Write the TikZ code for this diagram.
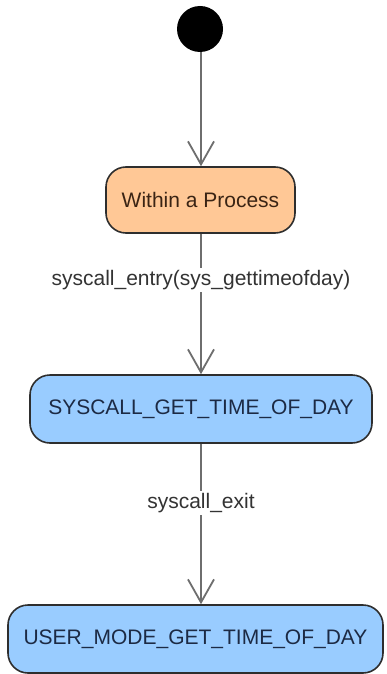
\documentclass[tikz,border=0pt]{standalone}
\usepackage{fontspec}
\setmainfont{Liberation Sans}
\usetikzlibrary{arrows.meta}
\definecolor{peach}{HTML}{FFC896}
\definecolor{skyfill}{HTML}{99CCFF}
\definecolor{edgegray}{HTML}{6E6E6E}
\definecolor{framedark}{HTML}{2E2E2E}
\definecolor{navytext}{HTML}{1C2A44}
\definecolor{browntext}{HTML}{3A2414}
\tikzset{
  state/.style={draw=framedark, line width=1.6pt, rounded corners=20pt,
    font=\fontsize{21}{25}\selectfont, inner sep=0pt},
  startdot/.style={circle, fill=black, inner sep=0pt, minimum size=46pt},
  trans/.style={draw=edgegray, line width=1.8pt,
    -{Straight Barb[length=23pt, width=26pt, line width=1.8pt]}},
  tlabel/.style={fill=white, text=black!80, font=\fontsize{21}{25}\selectfont,
    inner sep=2pt}
}
\begin{document}
\begin{tikzpicture}[x=1pt,y=-1pt]
  \useasboundingbox[fill=white] (0,0) rectangle (386,674);
  % initial pseudo-state
  \node[startdot] (start) at (200,29) {};
  % states
  \node[state, fill=peach, text=browntext, minimum width=189pt, minimum height=66pt]
    (proc) at (200.5,200) {Within a Process};
  \node[state, fill=skyfill, text=navytext, minimum width=342pt, minimum height=68pt]
    (sys) at (201,409) {SYSCALL\_GET\_TIME\_OF\_DAY};
  \node[state, fill=skyfill, text=navytext, minimum width=375pt, minimum height=68pt]
    (user) at (195.5,639) {USER\_MODE\_GET\_TIME\_OF\_DAY};
  % transitions
  \draw[trans] (start.south -| 201,0) -- (proc.north -| 201,0);
  \draw[trans] (proc.south -| 201,0) -- node[tlabel, pos=0.33] {syscall\_entry(sys\_gettimeofday)} (sys.north -| 201,0);
  \draw[trans] (sys.south -| 201,0) -- node[tlabel, pos=0.37] {syscall\_exit} (user.north -| 201,0);
\end{tikzpicture}
\end{document}
